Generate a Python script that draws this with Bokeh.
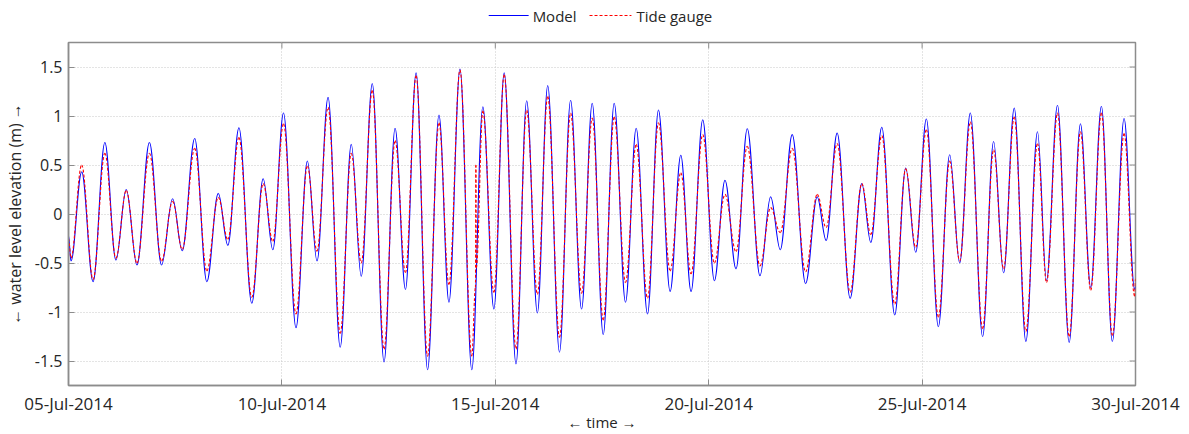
import numpy as np
from bokeh.core.properties import value
from bokeh.embed import file_html
from bokeh.layouts import column
from bokeh.models import ColumnDataSource, FixedTicker, Range1d
from bokeh.plotting import figure
from bokeh.resources import INLINE

# ---------------------------------------------------------------------------
# Data: successive highs/lows of the water level, time in days after
# 05-Jul-2014 00:00, elevation in metres.
# ---------------------------------------------------------------------------
span_days = 25.0

tick_days = [0, 5, 10, 15, 20, 25]
tick_labels = ["05-Jul-2014", "10-Jul-2014", "15-Jul-2014",
               "20-Jul-2014", "25-Jul-2014", "30-Jul-2014"]

level_ticks = [-1.5, -1.0, -0.5, 0.0, 0.5, 1.0, 1.5]
level_labels = ["-1.5", "-1", "-0.5", "0", "0.5", "1", "1.5"]

series_names = ["Model", "Tide gauge"]

model_day = [
    0.000, 0.058, 0.309, 0.576, 0.852, 1.111, 1.353, 1.604, 1.896, 2.180,
    2.439, 2.665, 2.957, 3.241, 3.509, 3.734, 3.993, 4.294, 4.561, 4.787,
    5.038, 5.330, 5.597, 5.823, 6.082, 6.366, 6.625, 6.859, 7.118, 7.393,
    7.652, 7.895, 8.145, 8.413, 8.680, 8.914, 9.173, 9.449, 9.708, 9.967,
    10.209, 10.485, 10.735, 10.986, 11.228, 11.504, 11.764, 12.021, 12.271, 12.529,
    12.786, 13.051, 13.301, 13.566, 13.823, 14.096, 14.346, 14.587, 14.860, 15.133,
    15.382, 15.640, 15.904, 16.201, 16.451, 16.677, 16.957, 17.270, 17.542, 17.752,
    18.010, 18.314, 18.587, 18.798, 19.055, 19.359, 19.616, 19.850, 20.100, 20.381,
    20.646, 20.880, 21.130, 21.418, 21.675, 21.909, 22.159, 22.431, 22.704, 22.915,
    23.172, 23.446, 23.710, 23.951, 24.201, 24.458, 24.732, 24.981, 25.000,
]

model_level = [
    -0.22, -0.48, 0.43, -0.69, 0.73, -0.47, 0.25, -0.52, 0.73, -0.52,
    0.155, -0.375, 0.77, -0.69, 0.21, -0.32, 0.88, -0.91, 0.36, -0.365,
    1.03, -1.16, 0.54, -0.48, 1.19, -1.36, 0.71, -0.635, 1.33, -1.51,
    0.875, -0.77, 1.44, -1.59, 1.01, -0.90, 1.48, -1.59, 1.095, -0.97,
    1.44, -1.53, 1.155, -1.01, 1.31, -1.41, 1.16, -0.97, 1.13, -1.23,
    1.13, -0.90, 0.875, -1.02, 1.06, -0.79, 0.60, -0.79, 0.96, -0.68,
    0.345, -0.56, 0.87, -0.63, 0.175, -0.365, 0.81, -0.71, 0.175, -0.27,
    0.825, -0.86, 0.31, -0.29, 0.885, -1.03, 0.47, -0.39, 0.97, -1.15,
    0.605, -0.50, 1.03, -1.25, 0.74, -0.60, 1.08, -1.30, 0.84, -0.68,
    1.11, -1.31, 0.92, -0.75, 1.10, -1.30, 0.975, -0.77, -0.74,
]

gauge_day = [
    0.000, 0.058, 0.309, 0.576, 0.852, 1.111, 1.353, 1.604, 1.896, 2.180,
    2.439, 2.665, 2.957, 3.241, 3.509, 3.734, 3.993, 4.294, 4.561, 4.787,
    5.038, 5.330, 5.597, 5.823, 6.082, 6.366, 6.625, 6.859, 7.118, 7.393,
    7.652, 7.895, 8.145, 8.413, 8.680, 8.914, 9.173, 9.449,
    9.535, 9.545, 9.555,
    9.708, 9.967,
    10.209, 10.485, 10.735, 10.986, 11.228, 11.504, 11.764, 12.021, 12.271, 12.529,
    12.786, 13.051, 13.301, 13.566, 13.823, 14.096, 14.346, 14.587, 14.860, 15.133,
    15.382, 15.640, 15.904, 16.201, 16.451, 16.677, 16.957, 17.270, 17.542, 17.752,
    18.010, 18.314, 18.587, 18.798, 19.055, 19.359, 19.616, 19.850, 20.100, 20.381,
    20.646, 20.880, 21.130, 21.418, 21.675, 21.909, 22.159, 22.431, 22.704, 22.915,
    23.172, 23.446, 23.710, 23.951, 24.201, 24.458, 24.732, 24.981, 25.000,
]

gauge_level = [
    -0.25, -0.45, 0.50, -0.67, 0.62, -0.45, 0.24, -0.50, 0.62, -0.48,
    0.13, -0.36, 0.67, -0.58, 0.17, -0.26, 0.78, -0.85, 0.31, -0.28,
    0.92, -1.02, 0.49, -0.38, 1.09, -1.22, 0.62, -0.50, 1.26, -1.38,
    0.75, -0.60, 1.41, -1.45, 0.93, -0.72, 1.47, -1.45,
    -0.75, 0.50, -0.55,
    1.05, -0.80,
    1.42, -1.38, 1.06, -0.82, 1.20, -1.26, 1.03, -0.81, 0.98, -1.08,
    0.99, -0.70, 0.71, -0.86, 0.93, -0.58, 0.42, -0.61, 0.81, -0.50,
    0.20, -0.385, 0.69, -0.53, 0.065, -0.19, 0.67, -0.59, 0.20, -0.14,
    0.72, -0.80, 0.31, -0.21, 0.80, -0.92, 0.46, -0.34, 0.86, -1.05,
    0.54, -0.48, 0.94, -1.17, 0.655, -0.56, 0.99, -1.20, 0.72, -0.70,
    1.03, -1.25, 0.84, -0.78, 1.03, -1.24, 0.82, -0.84, -0.66,
]


def turning_point_curve(days, levels, k=0.364):
    """Cubic Bezier segments between successive turning points, with a flat
    tangent at every high and low, so the tide reads as a smooth wave."""
    t = np.asarray(days, dtype=float)
    y = np.asarray(levels, dtype=float)
    dt = np.diff(t)
    return ColumnDataSource(dict(
        x0=t[:-1], y0=y[:-1], x1=t[1:], y1=y[1:],
        cx0=t[:-1] + k * dt, cy0=y[:-1],
        cx1=t[1:] - k * dt, cy1=y[1:],
    ))


FONT = "Open Sans"
TEXT = "#262626"
FRAME = "#8c8c8c"
MODEL_COLOR = "#0000ff"
GAUGE_COLOR = "#ff0000"
LINE_W = 1.1
GAUGE_DASH = "3 2"

Y_MIN, Y_MAX = -1.75, 1.75
FRAME_LEFT, FRAME_RIGHT = 66, 1135
FRAME_W, FRAME_H = FRAME_RIGHT - FRAME_LEFT, 346
TICK_PX = 6

# ---------------------------------------------------------------- main plot
p = figure(
    width=1189, height=400,
    x_range=Range1d(0, span_days),
    y_range=Range1d(Y_MIN, Y_MAX),
    output_backend="svg", toolbar_location=None,
    min_border_left=FRAME_LEFT, min_border_right=1189 - FRAME_RIGHT,
    min_border_top=8, min_border_bottom=46,
)
p.background_fill_color = "white"
p.border_fill_color = "white"
p.outline_line_color = FRAME
p.outline_line_width = 1.5

xaxis = p.xaxis[0]
xaxis.ticker = FixedTicker(ticks=tick_days)
xaxis.major_label_overrides = dict(zip(tick_days, tick_labels))
xaxis.axis_label = "\u2190 time \u2192"

yaxis = p.yaxis[0]
yaxis.ticker = FixedTicker(ticks=level_ticks)
yaxis.major_label_overrides = dict(zip(level_ticks, level_labels))
yaxis.axis_label = "\u2190 water level elevation (m) \u2192"

for ax in (xaxis, yaxis):
    ax.major_label_text_font = FONT
    ax.major_label_text_color = TEXT
    ax.axis_label_text_font = FONT
    ax.axis_label_text_font_style = "normal"
    ax.axis_label_text_color = TEXT
    ax.axis_line_color = FRAME
    ax.axis_line_width = 1.5
    ax.major_tick_line_color = FRAME
    ax.major_tick_in = TICK_PX
    ax.major_tick_out = 0
    ax.minor_tick_line_color = None
xaxis.major_label_text_font_size = "17px"
yaxis.major_label_text_font_size = "16px"
xaxis.axis_label_text_font_size = "15px"
yaxis.axis_label_text_font_size = "16px"
xaxis.major_label_standoff = 6
xaxis.axis_label_standoff = -6
yaxis.major_label_standoff = 6
yaxis.axis_label_standoff = 6

for g in (p.xgrid[0], p.ygrid[0]):
    g.grid_line_color = "#c8c8c8"
    g.grid_line_dash = "1 2"
    g.grid_line_width = 1

# Inward ticks along the top and right edges of the box
dx_tick = TICK_PX * span_days / FRAME_W
dy_tick = TICK_PX * (Y_MAX - Y_MIN) / FRAME_H
p.segment(x0=tick_days, x1=tick_days,
          y0=[Y_MAX] * len(tick_days), y1=[Y_MAX - dy_tick] * len(tick_days),
          line_color=FRAME, line_width=1)
p.segment(x0=[span_days] * len(level_ticks), x1=[span_days - dx_tick] * len(level_ticks),
          y0=level_ticks, y1=level_ticks, line_color=FRAME, line_width=1)

model_src = turning_point_curve(model_day, model_level)
gauge_src = turning_point_curve(gauge_day, gauge_level)

bez = dict(x0="x0", y0="y0", x1="x1", y1="y1",
           cx0="cx0", cy0="cy0", cx1="cx1", cy1="cy1")
p.bezier(source=model_src, line_color=MODEL_COLOR, line_width=LINE_W, **bez)
p.bezier(source=gauge_src, line_color=GAUGE_COLOR, line_width=LINE_W,
         line_dash=GAUGE_DASH, **bez)

# ------------------------------------------------------- key strip on top
# The strip's frame lines up with the plot frame below; its ranges are in
# pixels so the swatches and names sit at fixed spots.
STRIP_H = 34
key = figure(
    width=1189, height=STRIP_H,
    x_range=Range1d(FRAME_LEFT, FRAME_RIGHT), y_range=Range1d(0, STRIP_H),
    x_axis_location=None, y_axis_location=None,
    output_backend="svg", toolbar_location=None,
    min_border_left=FRAME_LEFT, min_border_right=1189 - FRAME_RIGHT,
    min_border_top=0, min_border_bottom=0,
)
key.outline_line_color = None
key.grid.visible = False
key.background_fill_color = "white"
key.border_fill_color = "white"

KEY_Y = STRIP_H - 15
swatch_x = [(487, 527), (588, 630)]
label_x = [531, 635]
key.segment(x0=[swatch_x[0][0]], x1=[swatch_x[0][1]], y0=[KEY_Y], y1=[KEY_Y],
            line_color=MODEL_COLOR, line_width=LINE_W)
key.segment(x0=[swatch_x[1][0]], x1=[swatch_x[1][1]], y0=[KEY_Y], y1=[KEY_Y],
            line_color=GAUGE_COLOR, line_width=LINE_W, line_dash=GAUGE_DASH)
key.text(x=label_x, y=[KEY_Y] * len(label_x), text=series_names,
         text_font=value(FONT), text_font_size="15px", text_color=TEXT,
         text_baseline="middle", text_align="left")

layout = column(key, p, spacing=0)
open("out.html", "w").write(file_html(layout, INLINE))
